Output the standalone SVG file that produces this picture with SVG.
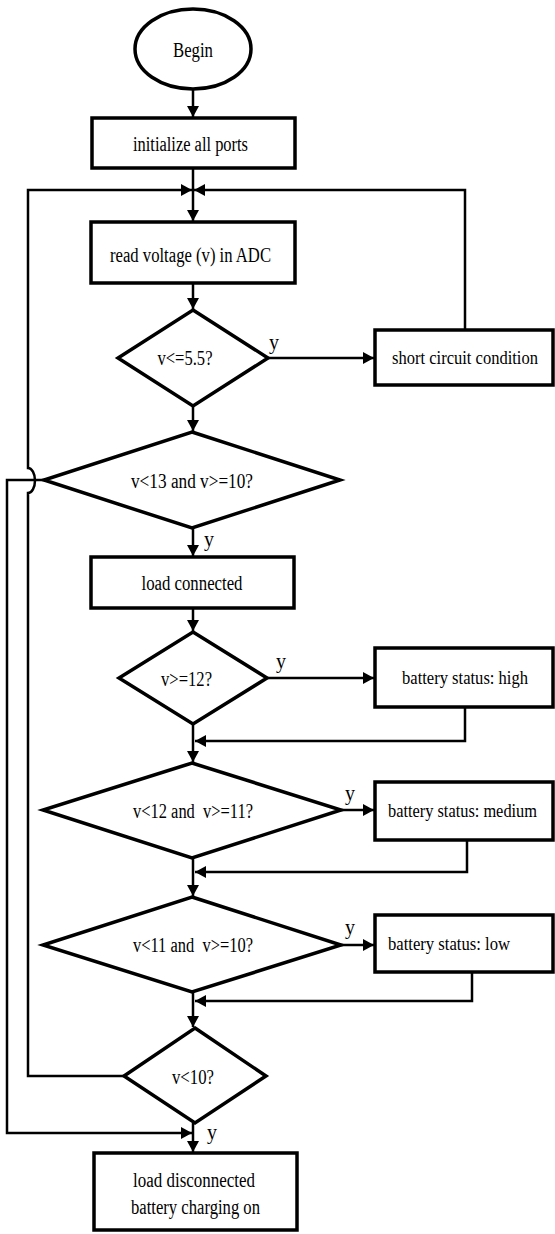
<svg xmlns="http://www.w3.org/2000/svg" width="555" height="1234" viewBox="0 0 555 1234">
<style>
.shape{fill:#fff;stroke:#000;stroke-width:3.5}
.conn{fill:none;stroke:#000;stroke-width:2.5}
text{font-family:"Liberation Serif","Times New Roman",serif;font-size:20px;fill:#000;text-anchor:middle}
text.side{font-size:18px}
</style>
<defs>
<marker id="arr" markerUnits="userSpaceOnUse" markerWidth="12" markerHeight="12" refX="11" refY="6" orient="auto">
<path d="M0,0 L11,6 L0,12 z" fill="#000"/>
</marker>
</defs>
<rect width="555" height="1234" fill="#fff"/>
<g id="connectors">
<path class="conn" d="M193 90 V117" marker-end="url(#arr)"/>
<path class="conn" d="M193 168 V221" marker-end="url(#arr)"/>
<path class="conn" d="M126 1076 H28 V493 A7 12.5 0 0 0 28 468 V190 H192" marker-end="url(#arr)"/>
<path class="conn" d="M465 330 V190 H194" marker-end="url(#arr)"/>
<path class="conn" d="M193 283 V309" marker-end="url(#arr)"/>
<path class="conn" d="M268 358 H374" marker-end="url(#arr)"/>
<path class="conn" d="M193 406 V431" marker-end="url(#arr)"/>
<path class="conn" d="M44 480 H7 V1133 H192" marker-end="url(#arr)"/>
<path class="conn" d="M193 528 V556" marker-end="url(#arr)"/>
<path class="conn" d="M193 608 V631" marker-end="url(#arr)"/>
<path class="conn" d="M267 678 H374" marker-end="url(#arr)"/>
<path class="conn" d="M193 724 V762" marker-end="url(#arr)"/>
<path class="conn" d="M465 707 V741 H195" marker-end="url(#arr)"/>
<path class="conn" d="M341 810 H374" marker-end="url(#arr)"/>
<path class="conn" d="M193 858 V896" marker-end="url(#arr)"/>
<path class="conn" d="M467 840 V872 H195" marker-end="url(#arr)"/>
<path class="conn" d="M341 945 H374" marker-end="url(#arr)"/>
<path class="conn" d="M193 992 V1027" marker-end="url(#arr)"/>
<path class="conn" d="M472 972 V1001 H195" marker-end="url(#arr)"/>
<path class="conn" d="M193 1123 V1152" marker-end="url(#arr)"/>
<text x="274" y="349">y</text>
<text x="209" y="546">y</text>
<text x="281" y="668">y</text>
<text x="350" y="800">y</text>
<text x="350" y="934">y</text>
<text x="212" y="1139">y</text>
</g>
<g id="begin">
<ellipse class="shape" cx="193" cy="49" rx="58" ry="40"/>
<text x="193" y="57" textLength="40" lengthAdjust="spacingAndGlyphs">Begin</text>
</g>
<g id="init">
<rect class="shape" x="92" y="118" width="203" height="50"/>
<text x="190.5" y="151" textLength="115" lengthAdjust="spacingAndGlyphs">initialize all ports</text>
</g>
<g id="read">
<rect class="shape" x="91" y="222" width="204" height="61"/>
<text x="190.5" y="262" textLength="161" lengthAdjust="spacingAndGlyphs">read voltage (v) in ADC</text>
</g>
<g id="d1">
<polygon class="shape" points="193,310 268,358 193,406 118,358"/>
<text x="185" y="365" textLength="55" lengthAdjust="spacingAndGlyphs">v&lt;=5.5?</text>
</g>
<g id="short">
<rect class="shape" x="375" y="330" width="178" height="55"/>
<text class="side" x="465" y="364" textLength="146" lengthAdjust="spacingAndGlyphs">short circuit condition</text>
</g>
<g id="d2">
<polygon class="shape" points="192,432 340,480 192,528 44,480"/>
<text x="192" y="488" textLength="122" lengthAdjust="spacingAndGlyphs">v&lt;13 and v&gt;=10?</text>
</g>
<g id="load">
<rect class="shape" x="91" y="557" width="203" height="51"/>
<text x="192" y="590" textLength="101" lengthAdjust="spacingAndGlyphs">load connected</text>
</g>
<g id="d3">
<polygon class="shape" points="193,632 267,678 193,724 119,678"/>
<text x="186.5" y="686" textLength="51" lengthAdjust="spacingAndGlyphs">v&gt;=12?</text>
</g>
<g id="high">
<rect class="shape" x="375" y="648" width="178" height="59"/>
<text class="side" x="465" y="684" textLength="126" lengthAdjust="spacingAndGlyphs">battery status: high</text>
</g>
<g id="d4">
<polygon class="shape" points="192,763 341,810 192,858 43,810"/>
<text x="193" y="818" textLength="120" lengthAdjust="spacingAndGlyphs" xml:space="preserve">v&lt;12 and  v&gt;=11?</text>
</g>
<g id="medium">
<rect class="shape" x="375" y="782" width="178" height="58"/>
<text class="side" x="462.5" y="817" textLength="149" lengthAdjust="spacingAndGlyphs">battery status: medium</text>
</g>
<g id="d5">
<polygon class="shape" points="192,897 341,945 192,992 43,945"/>
<text x="193" y="952" textLength="120" lengthAdjust="spacingAndGlyphs" xml:space="preserve">v&lt;11 and  v&gt;=10?</text>
</g>
<g id="low">
<rect class="shape" x="375" y="915" width="178" height="57"/>
<text class="side" x="449" y="950" textLength="122" lengthAdjust="spacingAndGlyphs">battery status: low</text>
</g>
<g id="d6">
<polygon class="shape" points="195,1028 266,1076 195,1123 124,1076"/>
<text x="193" y="1084" textLength="42" lengthAdjust="spacingAndGlyphs">v&lt;10?</text>
</g>
<g id="final">
<rect class="shape" x="94" y="1153" width="203" height="77"/>
<text x="194" y="1187" textLength="122" lengthAdjust="spacingAndGlyphs">load disconnected</text>
<text x="195.5" y="1214" textLength="129" lengthAdjust="spacingAndGlyphs">battery charging on</text>
</g>
</svg>
